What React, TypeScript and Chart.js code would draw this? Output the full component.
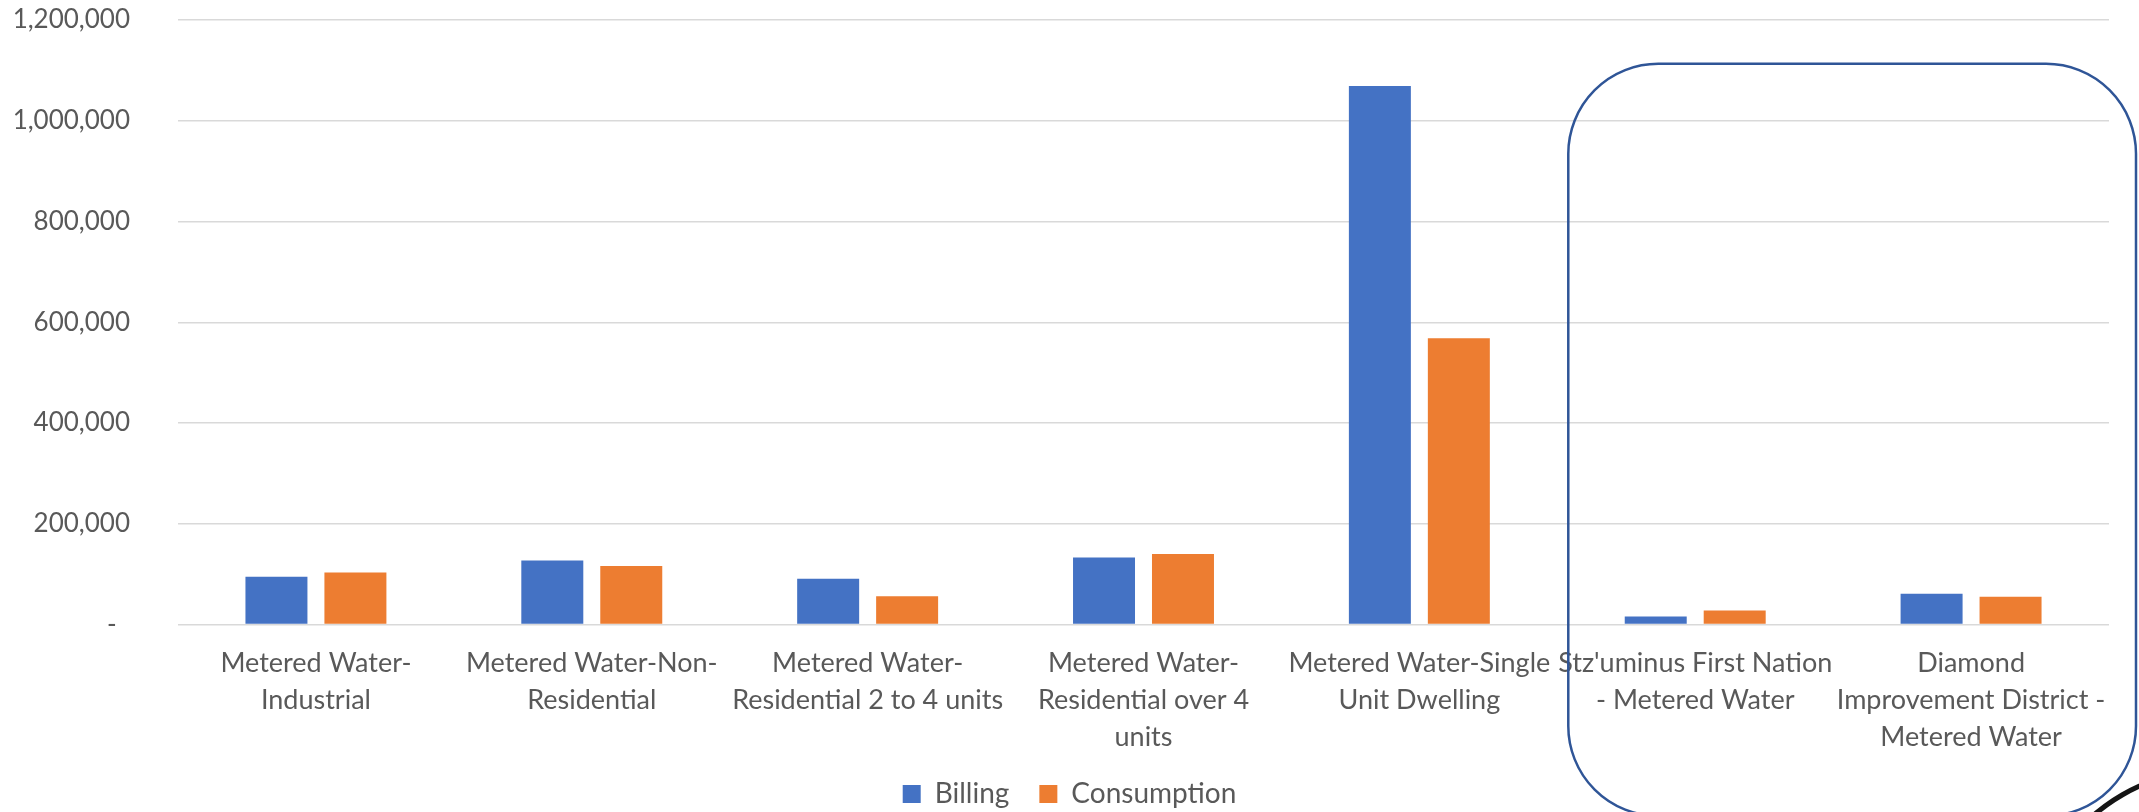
import { useEffect, useRef } from 'react';
import { Chart, registerables } from 'chart.js';

Chart.register(...registerables);

// Category labels, pre-wrapped into lines
const categories: string[][] = [
  ['Metered Water-', 'Industrial'],
  ['Metered Water-Non-', 'Residential'],
  ['Metered Water-', 'Residential 2 to 4 units'],
  ['Metered Water-', 'Residential over 4', 'units'],
  ['Metered Water-Single', 'Unit Dwelling'],
  ["Stz'uminus First Nation", '- Metered Water'],
  ['Diamond', 'Improvement District -', 'Metered Water'],
];

const billing = [95000, 127000, 91000, 133000, 1069000, 16000, 61000];
const consumption = [103000, 116000, 56000, 140000, 568000, 28000, 55000];

const seriesNames = ['Billing', 'Consumption'];
const seriesColors = ['#4472C4', '#ED7D31'];

const yMax = 1200000;
const yStep = 200000;

const TEXT = '#595959';
const GRID = '#D9D9D9';
const FONT = 'Lato, "Open Sans", sans-serif';
const LEGEND_GAP = 30;

// Chart.js counts a trailing gap after the last legend item; shift the row so it is truly centred
const centreLegend = {
  id: 'centreLegend',
  afterLayout(chart: any) {
    const legend = chart.legend;
    if (!legend) return;
    legend.left += LEGEND_GAP / 2;
    legend.right += LEGEND_GAP / 2;
  },
};

// Rounded call-out around the last two categories, plus a stray pen stroke in the corner
const highlightBox = {
  id: 'highlightBox',
  afterDraw(chart: Chart) {
    const { ctx } = chart;
    const x = chart.scales.x;
    const y = chart.scales.y;
    const left = (x.getPixelForValue(4) + x.getPixelForValue(5)) / 2 + 11;
    const top = y.getPixelForValue(1113000);
    const right = chart.width - 3;
    const bottom = chart.height - 2;
    ctx.save();
    ctx.strokeStyle = '#2F5597';
    ctx.lineWidth = 2.5;
    ctx.beginPath();
    ctx.roundRect(left, top, right - left, bottom - top, 90);
    ctx.stroke();

    ctx.strokeStyle = '#151515';
    ctx.lineWidth = 5;
    ctx.beginPath();
    ctx.arc(chart.width + 76, chart.height + 137, 185, (-145 * Math.PI) / 180, (-95 * Math.PI) / 180);
    ctx.stroke();
    ctx.restore();
  },
};

export default function App() {
  const ref = useRef<HTMLCanvasElement>(null);

  useEffect(() => {
    Chart.defaults.font.family = FONT;
    const chart = new Chart(ref.current!, {
      type: 'bar',
      data: {
        labels: categories,
        datasets: [billing, consumption].map((values, i) => ({
          label: seriesNames[i],
          data: values,
          backgroundColor: seriesColors[i],
          borderWidth: 0,
          categoryPercentage: 0.5725,
          barPercentage: 0.785,
        })),
      },
      options: {
        responsive: false,
        animation: false,
        layout: { padding: { top: 20, right: 30, left: 0, bottom: 0 } },
        plugins: {
          legend: {
            position: 'bottom',
            labels: {
              boxWidth: 18,
              boxHeight: 18,
              padding: LEGEND_GAP,
              color: TEXT,
              font: { size: 28 },
            },
          },
          tooltip: { enabled: false },
        },
        scales: {
          x: {
            grid: { display: false },
            border: { display: false },
            ticks: {
              color: TEXT,
              font: { size: 27, lineHeight: 37 / 27 },
              padding: 12,
              maxRotation: 0,
              minRotation: 0,
              autoSkip: false,
            },
            afterFit: (s: any) => {
              s.height = 125.5;
            },
          },
          y: {
            min: 0,
            max: yMax,
            ticks: {
              stepSize: yStep,
              padding: 48,
              color: TEXT,
              font: { size: 26 },
              callback: (v: any) => (Number(v) === 0 ? '-  ' : Number(v).toLocaleString('en-US')),
            },
            grid: { color: GRID, lineWidth: 1.5, drawTicks: false },
            border: { display: false },
            afterFit: (s: any) => {
              s.width = 178;
              // labels only need half their height of room above and below the axis
              s.paddingTop = 16;
              s.paddingBottom = 16;
            },
          },
        },
      },
      plugins: [centreLegend, highlightBox],
    });
    return () => chart.destroy();
  }, []);

  return (
    <div
      style={{
        position: 'fixed',
        left: 0,
        top: 0,
        width: 2139,
        height: 812,
        overflow: 'hidden',
        background: '#fff',
      }}
    >
      <canvas ref={ref} width={2139} height={818} style={{ display: 'block' }} />
    </div>
  );
}
